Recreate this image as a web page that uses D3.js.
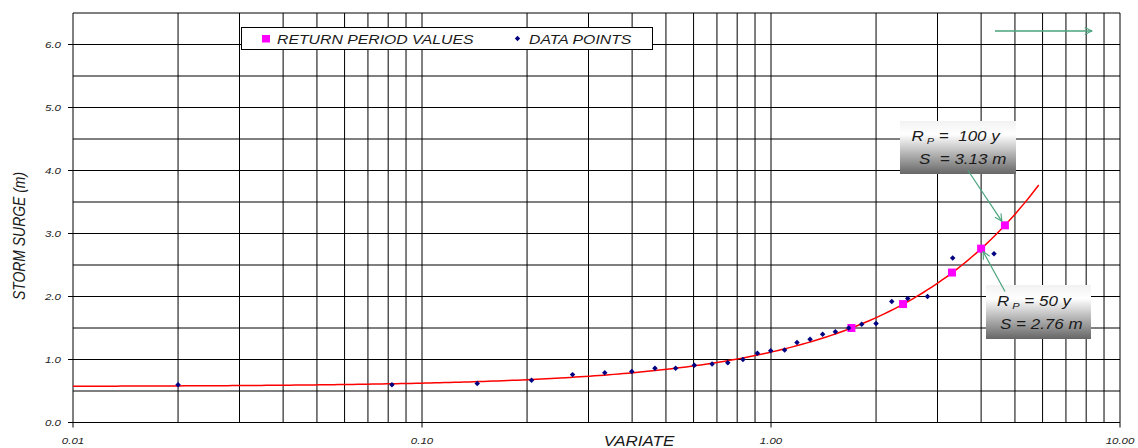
<!DOCTYPE html>
<html>
<head>
<meta charset="utf-8">
<script src="https://cdn.jsdelivr.net/npm/d3@7"></script>
<style>
  html, body { margin: 0; padding: 0; background: #fff; }
  svg { display: block; }
  text { font-family: "Liberation Sans", Arial, sans-serif; font-style: italic; white-space: pre; }
</style>
</head>
<body>
<svg id="chart" width="1138" height="448"></svg>
<script>
// ---- data ----
const variateLabelTicks = [0.01, 0.1, 1, 10];
const variateLabels = ["0.01", "0.10", "1.00", "10.00"];
const surgeLabelTicks = [0, 1, 2, 3, 4, 5, 6];
const surgeLabels = ["0.0", "1.0", "2.0", "3.0", "4.0", "5.0", "6.0"];

// observed storm surges against their plotting variate
const dataVariate = [0.020, 0.082, 0.144, 0.206, 0.270, 0.334, 0.399, 0.465, 0.533, 0.603,
                     0.678, 0.752, 0.831, 0.914, 0.998, 1.094, 1.187, 1.294, 1.406, 1.529,
                     1.670, 1.819, 2.000, 2.218, 2.465, 2.808, 3.316, 4.355];
const dataSurge   = [0.60, 0.60, 0.62, 0.67, 0.76, 0.79, 0.81, 0.86, 0.86, 0.91,
                     0.93, 0.95, 1.00, 1.10, 1.14, 1.15, 1.27, 1.32, 1.40, 1.44,
                     1.50, 1.56, 1.57, 1.92, 1.97, 2.00, 2.61, 2.68];

// return period estimates on the fitted line
const returnPeriods = [5, 10, 25, 50, 100];
const returnVariate = [1.70, 2.39, 3.30, 4.00, 4.68];
const returnSurge   = [1.50, 1.88, 2.38, 2.76, 3.13];

// fitted line S = a + b * variate
const fitIntercept = 0.57;
const fitSlope = 0.547;
const fitVariateRange = [0.01, 5.85];

// return periods called out in boxes
const calloutPeriods = [100, 50];

// ---- layout ----
const svg = d3.select("#chart");
const x = d3.scaleLog().domain([0.01, 10]).range([73, 1120]);
const y = d3.scaleLinear().domain([0, 6.5]).range([422.5, 13]);
const SQ = 0.82; // vertical squash of lettering

function label(parent, px, py, str, o) {
  const tf = `translate(${px},${py}) scale(${o.sx || 1},${o.sy || SQ})` + (o.rotate ? ` rotate(${o.rotate})` : "");
  const g = parent.append("g").attr("transform", tf);
  const t = g.append("text")
    .attr("font-size", o.size)
    .attr("text-anchor", o.anchor || "start")
    .attr("fill", o.fill || "#1a1a1a");
  if (str !== null) t.text(str);
  return t;
}

const defs = svg.append("defs");
const grad = defs.append("linearGradient").attr("id", "boxShade")
  .attr("x1", 0).attr("y1", 0).attr("x2", 0).attr("y2", 1);
grad.append("stop").attr("offset", "0%").attr("stop-color", "#f2f2f2");
grad.append("stop").attr("offset", "25%").attr("stop-color", "#ffffff");
grad.append("stop").attr("offset", "100%").attr("stop-color", "#666666");

defs.append("marker").attr("id", "openHead")
  .attr("viewBox", "0 0 10 10").attr("refX", 9).attr("refY", 5)
  .attr("markerWidth", 9).attr("markerHeight", 9)
  .attr("markerUnits", "userSpaceOnUse").attr("orient", "auto")
  .append("path").attr("d", "M1,1 L9,5 L1,9")
  .attr("fill", "none").attr("stroke", "#4aa37c").attr("stroke-width", 1.2);

// ---- grid ----
const grid = svg.append("g");
grid.selectAll("line.v").data(x.ticks()).join("line")
  .attr("x1", d => x(d)).attr("x2", d => x(d))
  .attr("y1", y(6.5)).attr("y2", y(0))
  .attr("stroke", "#000").attr("stroke-width", 1);
grid.selectAll("line.h").data(y.ticks(13)).join("line")
  .attr("x1", x(0.01)).attr("x2", x(10))
  .attr("y1", d => y(d)).attr("y2", d => y(d))
  .attr("stroke", "#000").attr("stroke-width", 1);

// tick marks
grid.selectAll("line.tx").data(variateLabelTicks).join("line")
  .attr("x1", d => x(d)).attr("x2", d => x(d))
  .attr("y1", y(0)).attr("y2", y(0) + 5)
  .attr("stroke", "#000");
grid.selectAll("line.ty").data(surgeLabelTicks).join("line")
  .attr("x1", x(0.01) - 5).attr("x2", x(0.01))
  .attr("y1", d => y(d)).attr("y2", d => y(d))
  .attr("stroke", "#000");

// tick labels
variateLabelTicks.forEach((v, i) => {
  label(svg, x(v), 444, variateLabels[i], { size: 11.5, anchor: "middle", fill: "#222" });
});
surgeLabelTicks.forEach((v, i) => {
  label(svg, 61, y(v) + 3.4, surgeLabels[i], { size: 11.5, anchor: "end", fill: "#222" });
});

// axis titles
label(svg, 639, 445.5, "VARIATE", { size: 17, anchor: "middle" });
label(svg, 25, 236, "STORM SURGE (m)", { size: 17, anchor: "middle", rotate: -90 });

// ---- legend ----
const leg = svg.append("g");
leg.append("rect").attr("x", 241.5).attr("y", 27.5).attr("width", 411).attr("height", 22)
  .attr("fill", "#fff").attr("stroke", "#000").attr("stroke-width", 1);
leg.append("rect").attr("x", 262).attr("y", 35).attr("width", 8).attr("height", 7.5)
  .attr("fill", "#ff00ff");
label(leg, 277, 43.5, "RETURN PERIOD VALUES", { size: 15.8 });
leg.append("path").attr("d", d3.symbol(d3.symbolSquare, 14)())
  .attr("transform", "translate(517.5,38.5) rotate(45)").attr("fill", "#000080");
label(leg, 529, 43.5, "DATA POINTS", { size: 15.8 });

// ---- fitted line ----
const fitPts = d3.range(0, 201).map(i => {
  const lv = Math.log10(fitVariateRange[0]) + (Math.log10(fitVariateRange[1]) - Math.log10(fitVariateRange[0])) * i / 200;
  const v = Math.pow(10, lv);
  return [v, fitIntercept + fitSlope * v];
});
svg.append("path").datum(fitPts)
  .attr("d", d3.line().x(d => x(d[0])).y(d => y(d[1])))
  .attr("fill", "none").attr("stroke", "#ff0000").attr("stroke-width", 1.5);

// ---- return period squares ----
svg.selectAll("path.rp").data(returnVariate.map((v, i) => [v, returnSurge[i]])).join("path")
  .attr("d", d3.symbol(d3.symbolSquare, 64)())
  .attr("transform", d => `translate(${x(d[0])},${y(d[1])})`)
  .attr("fill", "#ff00ff");

// ---- data points ----
svg.selectAll("path.pt").data(dataVariate.map((v, i) => [v, dataSurge[i]])).join("path")
  .attr("d", d3.symbol(d3.symbolSquare, 15)())
  .attr("transform", d => `translate(${x(d[0])},${y(d[1])}) rotate(45)`)
  .attr("fill", "#000080");

// ---- callouts ----
const callBoxes = [
  { box: [900, 121, 116, 53], l1: [911.5, 141], l2: [919, 163.5], eq1: " =  ", eq2: "  = ", lead: [967.7, 170], tip: [-3, -4] },
  { box: [986, 285, 105, 54], l1: [997, 306], l2: [1000, 328.5], eq1: " = ", eq2: " = ", lead: [1005, 291.5], tip: [2, 3] }
];
calloutPeriods.forEach((p, k) => {
  const idx = returnPeriods.indexOf(p);
  const cb = callBoxes[k];
  const g = svg.append("g");
  g.append("rect").attr("x", cb.box[0]).attr("y", cb.box[1])
    .attr("width", cb.box[2]).attr("height", cb.box[3]).attr("fill", "url(#boxShade)");
  const t1 = label(g, cb.l1[0], cb.l1[1], null, { size: 17, sy: 0.88 });
  t1.append("tspan").text("R");
  t1.append("tspan").attr("font-size", 11).attr("dx", 3).attr("dy", 3).text("P");
  t1.append("tspan").attr("dy", -3).text(`${cb.eq1}${p} y`);
  label(g, cb.l2[0], cb.l2[1], `S${cb.eq2}${returnSurge[idx].toFixed(2)} m`, { size: 17, sy: 0.88 });
  const tx = x(returnVariate[idx]) + cb.tip[0];
  const ty = y(returnSurge[idx]) + cb.tip[1];
  g.append("line").attr("x1", cb.lead[0]).attr("y1", cb.lead[1])
    .attr("x2", tx).attr("y2", ty)
    .attr("stroke", "#4aa37c").attr("stroke-width", 1.2)
    .attr("marker-end", "url(#openHead)");
});

// stray pointer in the upper right
svg.append("line").attr("x1", 995).attr("y1", 31).attr("x2", 1092).attr("y2", 31)
  .attr("stroke", "#4aa37c").attr("stroke-width", 1.3).attr("marker-end", "url(#openHead)");
</script>
</body>
</html>
